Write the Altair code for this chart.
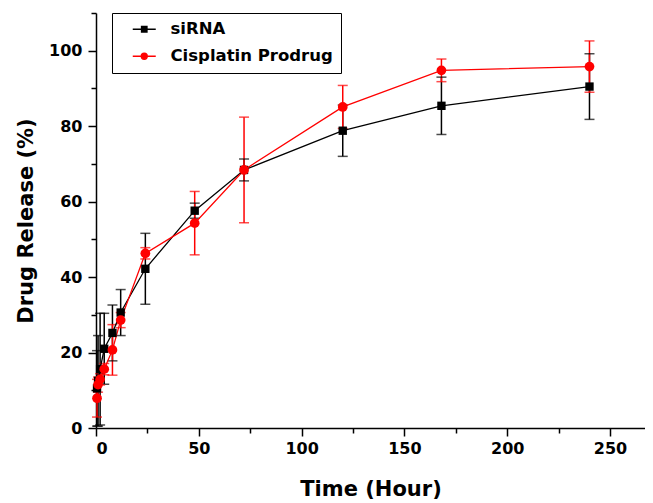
import altair as alt
import pandas as pd

# ---- data ----
times = [0.5, 1, 2, 4, 8, 12, 24, 48, 72, 120, 168, 240]
sirna = [10.5, 12.5, 15.6, 21.0, 25.2, 30.6, 42.2, 57.6, 68.4, 78.8, 85.4, 90.5]
sirna_err = [10.0, 12.0, 14.8, 9.4, 7.4, 6.1, 9.4, 2.0, 2.9, 6.8, 7.6, 8.7]
cis = [7.9, 11.5, 12.9, 15.6, 20.7, 28.6, 46.3, 54.3, 68.4, 85.1, 94.8, 95.8]
cis_err = [5.0, 2.0, 1.5, 1.5, 6.7, 2.0, 1.5, 8.4, 14.0, 5.7, 3.0, 6.8]

series_names = ["siRNA", "Cisplatin Prodrug"]
series_colors = ["#000000", "#ff0000"]
series_shapes = ["square", "circle"]
series_sizes = [70, 95]

x_ticks = [0, 25, 50, 75, 100, 125, 150, 175, 200, 225, 250]
y_ticks = [0, 10, 20, 30, 40, 50, 60, 70, 80, 90, 100, 110]

rows = []
for name, vals, errs in [(series_names[0], sirna, sirna_err), (series_names[1], cis, cis_err)]:
    for t, v, e in zip(times, vals, errs):
        rows.append({"Series": name, "Time": t, "Value": v, "lo": v - e, "hi": v + e})
df = pd.DataFrame(rows)

FONT = "DejaVu Sans"

# legend symbols: line through marker
sq_path = "M-2.3,0H-0.55M0.55,0H2.3M-0.55,-0.55H0.55V0.55H-0.55Z"
ci_path = "M-2.3,0H-0.6M0.6,0H2.3M-0.6,0A0.6,0.6 0 1,1 0.6,0A0.6,0.6 0 1,1 -0.6,0Z"

x_enc = alt.X("Time:Q", scale=alt.Scale(domain=[0, 267], nice=False, zero=False),
              axis=alt.Axis(values=x_ticks, title="Time (Hour)",
                            labelExpr="datum.value % 50 === 0 ? datum.label : ''",
                            tickSize={"condition": {"test": "datum.value % 50 === 0", "value": 8}, "value": 5},
                            labelPadding=4, titlePadding=22))
y_scale = alt.Scale(domain=[0, 110], nice=False)
y_axis = alt.Axis(values=y_ticks, title="Drug Release (%)",
                  labelExpr="datum.value % 20 === 0 ? datum.label : ''",
                  tickSize={"condition": {"test": "datum.value % 20 === 0", "value": 8}, "value": 5},
                  labelPadding=6, titlePadding=12)
y_enc = alt.Y("Value:Q", scale=y_scale, axis=y_axis)

base = alt.Chart(df)

err_layers, cap_layers, line_layers, pt_layers = [], [], [], []
for name, col, shp, sz in zip(series_names, series_colors, series_shapes, series_sizes):
    b = base.transform_filter(alt.datum.Series == name)
    err_layers.append(b.mark_rule(strokeWidth=1.5, color=col).encode(
        x=x_enc, y=alt.Y("lo:Q", scale=y_scale, axis=y_axis), y2="hi:Q"))
    cap_layers.append(b.mark_tick(orient="horizontal", size=10, thickness=1.5, color=col).encode(
        x=x_enc, y=alt.Y("lo:Q", scale=y_scale, axis=y_axis)))
    cap_layers.append(b.mark_tick(orient="horizontal", size=10, thickness=1.5, color=col).encode(
        x=x_enc, y=alt.Y("hi:Q", scale=y_scale, axis=y_axis)))
    line_layers.append(b.mark_line(strokeWidth=1.3, color=col).encode(x=x_enc, y=y_enc))
    pt_layers.append(b.mark_point(filled=True, opacity=1, shape=shp, size=sz, color=col).encode(
        x=x_enc, y=y_enc))

legend_def = alt.Legend(title=None, orient="none", legendX=16, legendY=0,
                        strokeColor="black", padding=8, rowPadding=10,
                        labelFont=FONT, labelFontWeight="bold", labelFontSize=16.5,
                        labelColor="black", labelLimit=400, symbolSize=100, symbolOffset=16,
                        labelOffset=18, symbolStrokeWidth=1.3, symbolOpacity=1,
                        fillColor="white")

color_scale = alt.Scale(domain=series_names, range=series_colors)
legend_layer = base.mark_point(filled=True, opacity=0, size=100).encode(
    x=x_enc, y=y_enc,
    fill=alt.Fill("Series:N", scale=color_scale, legend=legend_def),
    stroke=alt.Stroke("Series:N", scale=color_scale, legend=legend_def),
    shape=alt.Shape("Series:N", scale=alt.Scale(domain=series_names, range=[sq_path, ci_path]),
                    legend=legend_def),
)

chart = alt.layer(*err_layers, *cap_layers, *line_layers, *pt_layers, legend_layer).properties(
    width=549, height=415,
    autosize="none",
    padding={"left": 88, "top": 5, "right": 0, "bottom": 75},
).configure_view(stroke=None).configure_axis(
    grid=False,
    domainColor="black", domainWidth=1.5,
    tickColor="black", tickWidth=1.5,
    labelFont=FONT, labelFontWeight="bold", labelFontSize=16, labelColor="black",
    titleFont=FONT, titleFontWeight="bold", titleFontSize=21, titleColor="black",
)

chart.save("out.html", embed_options={"renderer": "svg", "actions": False})
